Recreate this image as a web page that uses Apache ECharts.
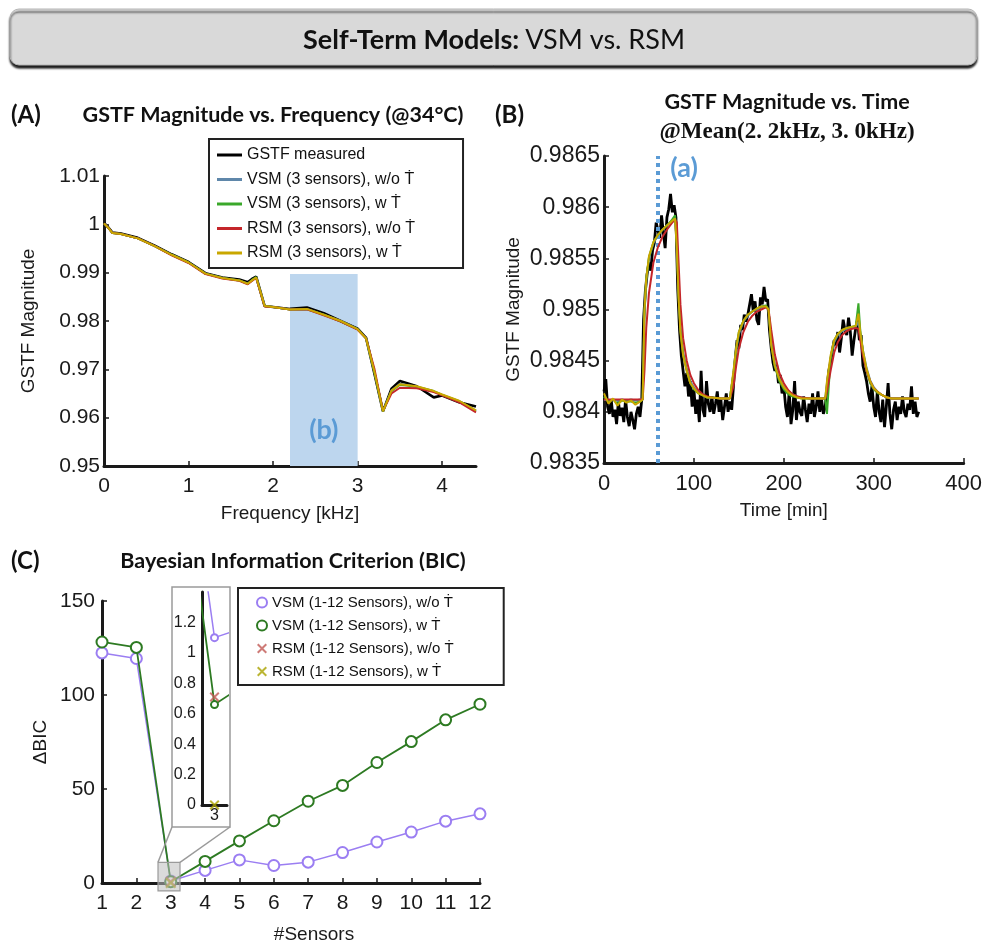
<!DOCTYPE html>
<html>
<head>
<meta charset="utf-8">
<script src="https://cdn.jsdelivr.net/npm/echarts@6/dist/echarts.min.js"></script>
<style>
html, body { margin: 0; padding: 0; background: #fff; }
#main { width: 985px; height: 945px; }
</style>
</head>
<body>
<div id="main"></div>
<script>
// ---- (A) GSTF magnitude vs frequency ----
const freqKHz = [0, 0.05, 0.1, 0.2, 0.4, 0.6, 0.8, 1.0, 1.2, 1.4, 1.6, 1.7, 1.75, 1.8, 1.9, 2.0,
  2.2, 2.4, 2.6, 2.8, 3.0, 3.1, 3.2, 3.3, 3.4, 3.5, 3.7, 3.9, 4.0, 4.2, 4.4];
const gstfMeasured = [1.0003, 0.9994, 0.9983, 0.9981, 0.9972, 0.9956, 0.9938, 0.9922, 0.9899, 0.9890, 0.9886, 0.9880, 0.9887, 0.9892, 0.9831, 0.9829,
  0.9825, 0.9828, 0.9816, 0.9800, 0.9784, 0.9765, 0.9690, 0.9613, 0.9660, 0.9676, 0.9665, 0.9642, 0.9646, 0.9632, 0.9623];
const vsmWoFreq = [1.0002, 0.9993, 0.9982, 0.9980, 0.9971, 0.9955, 0.9937, 0.9921, 0.9898, 0.9889, 0.9884, 0.9877, 0.9884, 0.9890, 0.9831, 0.9829,
  0.9824, 0.9825, 0.9813, 0.9800, 0.9783, 0.9764, 0.9694, 0.9613, 0.9656, 0.9670, 0.9664, 0.9654, 0.9647, 0.9634, 0.9614];
const vsmWFreq = [1.0002, 0.9993, 0.9982, 0.9980, 0.9971, 0.9955, 0.9937, 0.9921, 0.9898, 0.9889, 0.9884, 0.9877, 0.9885, 0.9891, 0.9831, 0.9829,
  0.9824, 0.9824, 0.9813, 0.9799, 0.9783, 0.9764, 0.9693, 0.9613, 0.9655, 0.9668, 0.9664, 0.9655, 0.9647, 0.9634, 0.9614];
const rsmWoFreq = [1.0002, 0.9993, 0.9982, 0.9980, 0.9971, 0.9955, 0.9936, 0.9920, 0.9897, 0.9888, 0.9883, 0.9876, 0.9883, 0.9889, 0.9830, 0.9829,
  0.9824, 0.9824, 0.9812, 0.9799, 0.9782, 0.9764, 0.9700, 0.9614, 0.9650, 0.9662, 0.9661, 0.9653, 0.9646, 0.9632, 0.9611];
const rsmWFreq = [1.0002, 0.9993, 0.9982, 0.9980, 0.9971, 0.9955, 0.9937, 0.9921, 0.9898, 0.9889, 0.9884, 0.9877, 0.9884, 0.9890, 0.9831, 0.9829,
  0.9824, 0.9825, 0.9813, 0.9800, 0.9783, 0.9764, 0.9694, 0.9613, 0.9656, 0.9669, 0.9665, 0.9655, 0.9648, 0.9635, 0.9615];
const bandKHz = [2.2, 3.0];   // shaded band (b)
const bandTop = 0.9897;

// ---- (B) GSTF magnitude vs time ----
const measTime = [0, 2, 4, 6, 8, 10, 12, 14, 16, 18, 20, 22, 24, 26, 28, 30, 32, 34, 36, 38,
  40, 42, 44, 46, 48, 50, 52, 54, 56, 58, 60, 62, 64, 66, 68, 70, 72, 74, 76, 78,
  80, 82, 84, 86, 88, 90, 92, 94, 96, 98, 100, 102, 104, 106, 108, 110, 112, 114, 116, 118,
  120, 122, 124, 126, 128, 130, 132, 134, 136, 138, 140, 142, 144, 146, 148, 150, 152, 154, 156, 158,
  160, 162, 164, 166, 168, 170, 172, 174, 176, 178, 180, 182, 184, 186, 188, 190, 192, 194, 196, 198,
  200, 202, 204, 206, 208, 210, 212, 214, 216, 218, 220, 222, 224, 226, 228, 230, 232, 234, 236, 238,
  240, 242, 244, 246, 248, 250, 252, 254, 256, 258, 260, 262, 264, 266, 268, 270, 272, 274, 276, 278,
  280, 282, 284, 286, 288, 290, 292, 294, 296, 298, 300, 302, 304, 306, 308, 310, 312, 314, 316, 318,
  320, 322, 324, 326, 328, 330, 332, 334, 336, 338, 340, 342, 344, 346, 348, 350];
const measGstf = [
  0.98420, 0.98432, 0.98405, 0.98398, 0.98412, 0.98395, 0.98402, 0.98388, 0.98410, 0.98396,
  0.98404, 0.98390, 0.98412, 0.98395, 0.98386, 0.98400, 0.98392, 0.98383, 0.98398, 0.98405,
  0.98395, 0.98412, 0.98490, 0.98518, 0.98535, 0.98546, 0.98538, 0.98558, 0.98565, 0.98585,
  0.98585, 0.98570, 0.98592, 0.98575, 0.98560, 0.98590, 0.98598, 0.98613, 0.98595, 0.98602,
  0.98590, 0.98520, 0.98480, 0.98455, 0.98440, 0.98425, 0.98438, 0.98415, 0.98430, 0.98405,
  0.98422, 0.98398, 0.98412, 0.98390, 0.98440, 0.98402, 0.98395, 0.98430, 0.98408, 0.98400,
  0.98415, 0.98398, 0.98408, 0.98420, 0.98400, 0.98412, 0.98392, 0.98405, 0.98418, 0.98400,
  0.98410, 0.98402, 0.98425, 0.98452, 0.98470, 0.98462, 0.98485, 0.98480, 0.98495, 0.98488,
  0.98495, 0.98505, 0.98515, 0.98498, 0.98508, 0.98490, 0.98485, 0.98512, 0.98505, 0.98522,
  0.98508, 0.98510, 0.98480, 0.98462, 0.98448, 0.98440, 0.98446, 0.98428, 0.98436, 0.98418,
  0.98425, 0.98405, 0.98395, 0.98420, 0.98388, 0.98402, 0.98430, 0.98392, 0.98410, 0.98400,
  0.98396, 0.98415, 0.98402, 0.98390, 0.98408, 0.98398, 0.98418, 0.98395, 0.98405, 0.98420,
  0.98400, 0.98412, 0.98398, 0.98405, 0.98422, 0.98440, 0.98448, 0.98460, 0.98470, 0.98465,
  0.98478, 0.98458, 0.98472, 0.98490, 0.98480, 0.98475, 0.98492, 0.98478, 0.98455, 0.98470,
  0.98482, 0.98490, 0.98470, 0.98475, 0.98445, 0.98438, 0.98430, 0.98418, 0.98410, 0.98425,
  0.98405, 0.98395, 0.98420, 0.98400, 0.98390, 0.98412, 0.98385, 0.98405, 0.98428, 0.98398,
  0.98383, 0.98402, 0.98410, 0.98392, 0.98405, 0.98398, 0.98415, 0.98400, 0.98395, 0.98408,
  0.98402, 0.98425, 0.98398, 0.98410, 0.98395, 0.98400];
const modelTime = [0, 5, 10, 15, 20, 25, 30, 35, 40,
  43, 45, 47, 50, 55, 60, 65, 70, 75, 79,
  81, 83, 85, 88, 92, 96, 100, 105, 110, 115,
  120, 130, 140, 144, 147, 150, 155, 160, 165, 170,
  175, 180, 183, 186, 190, 195, 200, 205, 210, 215,
  220, 230, 240, 246, 248, 252, 256, 260, 265, 270,
  275, 280, 283, 285, 288, 292, 296, 300, 305, 310,
  315, 320, 330, 340, 350];
const vsmWoTime = [0.98412, 0.98411, 0.98412, 0.98411, 0.98412, 0.98411, 0.98412, 0.98411, 0.98412,
  0.98412, 0.98495, 0.98528, 0.98550, 0.98565, 0.98572, 0.98578, 0.98582, 0.98586, 0.98588,
  0.98565, 0.98515, 0.98482, 0.98458, 0.98442, 0.98430, 0.98424, 0.98419, 0.98416, 0.98414,
  0.98414, 0.98413, 0.98413, 0.98438, 0.98460, 0.98476, 0.98488, 0.98494, 0.98498, 0.98500,
  0.98502, 0.98503, 0.98500, 0.98468, 0.98447, 0.98433, 0.98425, 0.98420, 0.98417, 0.98415,
  0.98414, 0.98413, 0.98413, 0.98413, 0.98428, 0.98453, 0.98468, 0.98475, 0.98479, 0.98481,
  0.98482, 0.98483, 0.98488, 0.98476, 0.98460, 0.98443, 0.98431, 0.98424, 0.98419, 0.98416,
  0.98414, 0.98413, 0.98413, 0.98413, 0.98413];
const vsmWTime = [0.98415, 0.98410, 0.98412, 0.98408, 0.98411, 0.98410, 0.98410, 0.98409, 0.98410,
  0.98412, 0.98498, 0.98530, 0.98551, 0.98566, 0.98573, 0.98578, 0.98582, 0.98587, 0.98592,
  0.98562, 0.98512, 0.98480, 0.98456, 0.98440, 0.98428, 0.98422, 0.98418, 0.98416, 0.98414,
  0.98414, 0.98413, 0.98413, 0.98438, 0.98462, 0.98478, 0.98489, 0.98495, 0.98498, 0.98501,
  0.98503, 0.98504, 0.98500, 0.98466, 0.98444, 0.98430, 0.98422, 0.98417, 0.98415, 0.98414,
  0.98413, 0.98413, 0.98413, 0.98413, 0.98398, 0.98452, 0.98470, 0.98476, 0.98480, 0.98482,
  0.98483, 0.98484, 0.98506, 0.98480, 0.98458, 0.98440, 0.98428, 0.98422, 0.98418, 0.98416,
  0.98414, 0.98413, 0.98413, 0.98413, 0.98413];
const rsmWoTime = [0.98412, 0.98412, 0.98412, 0.98412, 0.98412, 0.98412, 0.98412, 0.98412, 0.98412,
  0.98412, 0.98440, 0.98482, 0.98516, 0.98546, 0.98561, 0.98571, 0.98578, 0.98584, 0.98588,
  0.98585, 0.98545, 0.98505, 0.98472, 0.98450, 0.98436, 0.98428, 0.98421, 0.98417, 0.98415,
  0.98414, 0.98413, 0.98413, 0.98425, 0.98445, 0.98462, 0.98478, 0.98488, 0.98494, 0.98498,
  0.98500, 0.98502, 0.98500, 0.98480, 0.98456, 0.98438, 0.98428, 0.98421, 0.98417, 0.98415,
  0.98414, 0.98413, 0.98413, 0.98413, 0.98420, 0.98440, 0.98458, 0.98468, 0.98475, 0.98479,
  0.98481, 0.98482, 0.98481, 0.98470, 0.98455, 0.98440, 0.98430, 0.98423, 0.98419, 0.98416,
  0.98414, 0.98413, 0.98413, 0.98413, 0.98413];
const rsmWTime = [0.98418, 0.98408, 0.98413, 0.98406, 0.98412, 0.98409, 0.98411, 0.98407, 0.98410,
  0.98412, 0.98500, 0.98530, 0.98552, 0.98566, 0.98573, 0.98578, 0.98582, 0.98586, 0.98589,
  0.98560, 0.98510, 0.98478, 0.98455, 0.98440, 0.98428, 0.98423, 0.98418, 0.98416, 0.98414,
  0.98414, 0.98413, 0.98413, 0.98440, 0.98462, 0.98478, 0.98489, 0.98495, 0.98498, 0.98501,
  0.98503, 0.98503, 0.98500, 0.98465, 0.98445, 0.98432, 0.98424, 0.98419, 0.98416, 0.98414,
  0.98413, 0.98413, 0.98413, 0.98413, 0.98430, 0.98455, 0.98470, 0.98476, 0.98480, 0.98482,
  0.98483, 0.98484, 0.98496, 0.98478, 0.98460, 0.98442, 0.98430, 0.98423, 0.98419, 0.98416,
  0.98414, 0.98413, 0.98413, 0.98413, 0.98413];
const markerTime = 60;   // dotted line (a)

// ---- (C) BIC ----
const sensors = [1, 2, 3, 4, 5, 6, 7, 8, 9, 10, 11, 12];
const bicVsmWo = [122.4, 119.4, 1.1, 6.7, 12.3, 9.3, 11.1, 16.2, 21.8, 27.1, 32.9, 36.8];
const bicVsmW = [128.2, 125.3, 0.66, 11.5, 22.4, 33.1, 43.5, 51.9, 64.1, 75.2, 86.8, 95.1];
const rsmSensors = [3];
const bicRsmWo = [0.71];
const bicRsmW = [0];

const namesA = ['GSTF measured', 'VSM (3 sensors), w/o Ṫ', 'VSM (3 sensors), w Ṫ', 'RSM (3 sensors), w/o Ṫ', 'RSM (3 sensors), w Ṫ'];
const namesC = ['VSM (1-12 Sensors), w/o Ṫ', 'VSM (1-12 Sensors), w Ṫ', 'RSM (1-12 Sensors), w/o Ṫ', 'RSM (1-12 Sensors), w Ṫ'];

const colA = ['#000000', '#5f87aa', '#3aa82a', '#c4262a', '#c9a700'];
const purple = '#9b7ef2', dkGreen = '#2d7a22', xRed = '#c25a55', xYellow = '#aaa200';
const X_PATH = 'path://M0,1.4L1.4,0L5,3.6L8.6,0L10,1.4L6.4,5L10,8.6L8.6,10L5,6.4L1.4,10L0,8.6L3.6,5Z';

const pairs = (xs, ys) => xs.map((x, i) => [x, ys[i]]);
const FONT = 'Liberation Sans';
const TFONT = 'Lato';

function axisBase(extra) {
  return Object.assign({
    type: 'value',
    axisLine: { show: true, onZero: false, lineStyle: { color: '#1a1a1a', width: 3 } },
    axisTick: { show: true, inside: true, length: 5, lineStyle: { color: '#1a1a1a', width: 1.5 } },
    splitLine: { show: false },
    axisLabel: { color: '#1a1a1a', fontFamily: FONT, fontSize: 21, margin: 6 },
    nameLocation: 'middle',
    nameTextStyle: { color: '#1a1a1a', fontFamily: FONT, fontSize: 19 }
  }, extra);
}

const chart = echarts.init(document.getElementById('main'), null, { renderer: 'canvas' });

const seriesA = [gstfMeasured, vsmWoFreq, vsmWFreq, rsmWoFreq, rsmWFreq].map((ys, i) => ({
  type: 'line', name: namesA[i], xAxisIndex: 0, yAxisIndex: 0, z: 3 + i,
  data: pairs(freqKHz, ys), symbol: 'none',
  lineStyle: { color: colA[i], width: i === 0 ? 2.6 : 2 }, itemStyle: { color: colA[i] }
}));
seriesA.unshift({
  type: 'line', name: 'band', xAxisIndex: 0, yAxisIndex: 0, z: 1, data: [], symbol: 'none',
  markArea: {
    silent: true,
    itemStyle: { color: '#bdd6ee' },
    label: { show: true, position: 'insideBottom', distance: 22, formatter: '(b)',
      color: '#5b9bd5', fontFamily: TFONT, fontWeight: 'bold', fontSize: 27 },
    data: [[{ xAxis: bandKHz[0], yAxis: 0.95 }, { xAxis: bandKHz[1], yAxis: bandTop }]]
  }
});

const timeSets = [[measTime, measGstf], [modelTime, vsmWoTime], [modelTime, vsmWTime], [modelTime, rsmWoTime], [modelTime, rsmWTime]];
const seriesB = timeSets.map((s, i) => ({
  type: 'line', name: namesA[i], xAxisIndex: 1, yAxisIndex: 1, z: 3 + i,
  data: pairs(s[0], s[1]), symbol: 'none',
  lineStyle: { color: colA[i], width: i === 0 ? 2.8 : 2 }, itemStyle: { color: colA[i] }
}));
seriesB.unshift({
  type: 'line', name: 'marker', xAxisIndex: 1, yAxisIndex: 1, z: 10, data: [], symbol: 'none',
  markLine: {
    silent: true, symbol: 'none', label: { show: false },
    lineStyle: { color: '#5b9bd5', width: 4, type: [4, 4] },
    data: [{ xAxis: markerTime }]
  },
  markPoint: {
    silent: true, symbol: 'circle', symbolSize: 0,
    label: { show: true, formatter: '(a)', color: '#5b9bd5', fontFamily: TFONT, fontWeight: 'bold', fontSize: 27 },
    data: [{ coord: [89, 0.98638] }]
  }
});

function bicSeries(gi, symSize, xSize) {
  return [
    { type: 'line', name: namesC[0], xAxisIndex: gi, yAxisIndex: gi, z: 3, data: pairs(sensors, bicVsmWo),
      symbol: 'emptyCircle', symbolSize: symSize, lineStyle: { color: purple, width: 1.5 },
      itemStyle: { color: purple, borderWidth: 1.4 } },
    { type: 'line', name: namesC[1], xAxisIndex: gi, yAxisIndex: gi, z: 4, data: pairs(sensors, bicVsmW),
      symbol: 'emptyCircle', symbolSize: symSize, lineStyle: { color: dkGreen, width: 1.8 },
      itemStyle: { color: dkGreen, borderWidth: 1.6 } },
    { type: 'scatter', name: namesC[2], xAxisIndex: gi, yAxisIndex: gi, z: 5, data: pairs(rsmSensors, bicRsmWo),
      symbol: X_PATH, symbolSize: xSize, itemStyle: { color: xRed } },
    { type: 'scatter', name: namesC[3], xAxisIndex: gi, yAxisIndex: gi, z: 6, data: pairs(rsmSensors, bicRsmW),
      symbol: X_PATH, symbolSize: xSize, itemStyle: { color: xYellow } }
  ];
}

const texts = [
  { type: 'text', x: 11, y: 115, style: { text: '(A)', font: 'bold 24px ' + TFONT, fill: '#111', verticalAlign: 'middle' } },
  { type: 'text', x: 273, y: 115, style: { text: 'GSTF Magnitude vs. Frequency (@34°C)', font: 'bold 21.5px ' + TFONT, fill: '#111', align: 'center', verticalAlign: 'middle' } },
  { type: 'text', x: 495, y: 115, style: { text: '(B)', font: 'bold 24px ' + TFONT, fill: '#111', verticalAlign: 'middle' } },
  { type: 'text', x: 787, y: 102, style: { text: 'GSTF Magnitude vs. Time', font: 'bold 21.5px ' + TFONT, fill: '#111', align: 'center', verticalAlign: 'middle' } },
  { type: 'text', x: 787, y: 132, style: { text: '@Mean(2. 2kHz, 3. 0kHz)', font: 'bold 23px "Liberation Serif"', fill: '#111', align: 'center', verticalAlign: 'middle' } },
  { type: 'text', x: 11, y: 561, style: { text: '(C)', font: 'bold 24px ' + TFONT, fill: '#111', verticalAlign: 'middle' } },
  { type: 'text', x: 293, y: 561, style: { text: 'Bayesian Information Criterion (BIC)', font: 'bold 21.5px ' + TFONT, fill: '#111', align: 'center', verticalAlign: 'middle' } }
];

chart.setOption({
  animation: false,
  backgroundColor: '#ffffff',
  graphic: [
    { type: 'rect', id: 'hdr', shape: { x: 10, y: 9, width: 967, height: 56, r: 9 },
      style: { fill: '#d9d9d9', stroke: '#b5b5b5', lineWidth: 1, shadowColor: 'rgba(0,0,0,0.9)', shadowOffsetY: 3, shadowBlur: 2 } },
    { type: 'text', id: 'hdrText', x: 494, y: 40,
      style: { text: '{b|Self-Term Models:}{n|\u00a0VSM vs. RSM}', align: 'center', verticalAlign: 'middle',
        rich: { b: { fontFamily: TFONT, fontWeight: 'bold', fontSize: 27, fill: '#111' },
                n: { fontFamily: TFONT, fontSize: 27, fill: '#111' } } } },
    { type: 'rect', id: 'insetBox', z: -5, shape: { x: 172, y: 587, width: 58, height: 240 },
      style: { fill: '#fff', stroke: '#9a9a9a', lineWidth: 1.5 } }
  ].concat(texts),
  legend: [
    { orient: 'vertical', left: 209, top: 139, padding: [8, 48, 7, 8], itemGap: 8.5, itemWidth: 25, itemHeight: 3,
      icon: 'rect', borderColor: '#222', borderWidth: 2, backgroundColor: '#fff', selectedMode: false,
      textStyle: { fontFamily: FONT, fontSize: 16, color: '#111' }, data: namesA },
    { orient: 'vertical', left: 238, top: 588, padding: [7, 50, 6, 18], itemGap: 8, itemWidth: 10, itemHeight: 10,
      borderColor: '#222', borderWidth: 2, backgroundColor: '#fff', selectedMode: false,
      textStyle: { fontFamily: FONT, fontSize: 15, color: '#111' },
      data: [
        { name: namesC[0], icon: 'emptyCircle' },
        { name: namesC[1], icon: 'emptyCircle' },
        { name: namesC[2], icon: X_PATH },
        { name: namesC[3], icon: X_PATH }
      ] }
  ],
  grid: [
    { left: 104, top: 176, width: 372, height: 290 },
    { left: 604, top: 156, width: 364, height: 307 },
    { left: 102, top: 601, width: 378, height: 284 },
    { left: 202, top: 592, width: 25, height: 213 }
  ],
  xAxis: [
    axisBase({ gridIndex: 0, min: 0, max: 4.4, interval: 1, name: 'Frequency [kHz]', nameGap: 38,
      axisLabel: { color: '#1a1a1a', fontFamily: FONT, fontSize: 21, margin: 10, showMaxLabel: false } }),
    axisBase({ gridIndex: 1, min: 0, max: 400, interval: 100, name: 'Time [min]', nameGap: 38,
      axisLabel: { color: '#1a1a1a', fontFamily: FONT, fontSize: 22, margin: 10 } }),
    axisBase({ gridIndex: 2, min: 1, max: 12, interval: 1, name: '#Sensors', nameGap: 42,
      nameTextStyle: { color: '#1a1a1a', fontFamily: FONT, fontSize: 19, padding: [0, 0, 0, 46] },
      axisLabel: { color: '#1a1a1a', fontFamily: FONT, fontSize: 21, margin: 10 } }),
    axisBase({ gridIndex: 3, min: 2.995, max: 3.005, interval: 0.005,
      axisTick: { show: false },
      axisLabel: { color: '#1a1a1a', fontFamily: FONT, fontSize: 16, margin: 3,
        formatter: v => (Math.abs(v - 3) < 1e-6 ? '3' : '') } })
  ],
  yAxis: [
    axisBase({ gridIndex: 0, min: 0.95, max: 1.01, interval: 0.01, name: 'GSTF Magnitude', nameGap: 66,
      axisLabel: { color: '#1a1a1a', fontFamily: FONT, fontSize: 21, margin: 4 } }),
    axisBase({ gridIndex: 1, min: 0.9835, max: 0.9865, interval: 0.0005, name: 'GSTF Magnitude', nameGap: 81,
      axisLabel: { color: '#1a1a1a', fontFamily: FONT, fontSize: 23, margin: 4 } }),
    axisBase({ gridIndex: 2, min: 0, max: 150, interval: 50, name: 'ΔBIC', nameGap: 52,
      axisLabel: { color: '#1a1a1a', fontFamily: FONT, fontSize: 21, margin: 7 } }),
    axisBase({ gridIndex: 3, min: 0, max: 1.4, interval: 0.2,
      axisTick: { show: false },
      axisLabel: { color: '#1a1a1a', fontFamily: FONT, fontSize: 16, margin: 6, showMaxLabel: false } })
  ],
  series: seriesA.concat(seriesB, bicSeries(2, 11, 11), bicSeries(3, 7, 10))
});

// zoom box around sensor 3 in (C) and its connectors to the inset
const p0 = chart.convertToPixel({ gridIndex: 2 }, [2.63, 11]);
const p1 = chart.convertToPixel({ gridIndex: 2 }, [3.27, -4.2]);
chart.setOption({
  graphic: [
    { type: 'rect', id: 'zoomBox', z: 100, shape: { x: p0[0], y: p0[1], width: p1[0] - p0[0], height: p1[1] - p0[1] },
      style: { fill: 'rgba(190,190,190,0.55)', stroke: '#9a9a9a', lineWidth: 1.2 } },
    { type: 'polyline', id: 'conL', z: 100, shape: { points: [[p0[0], p0[1]], [172, 827]] },
      style: { stroke: '#9a9a9a', lineWidth: 1.5, fill: null } },
    { type: 'polyline', id: 'conR', z: 100, shape: { points: [[p1[0], p0[1]], [230, 827]] },
      style: { stroke: '#9a9a9a', lineWidth: 1.5, fill: null } }
  ]
});
</script>
</body>
</html>
